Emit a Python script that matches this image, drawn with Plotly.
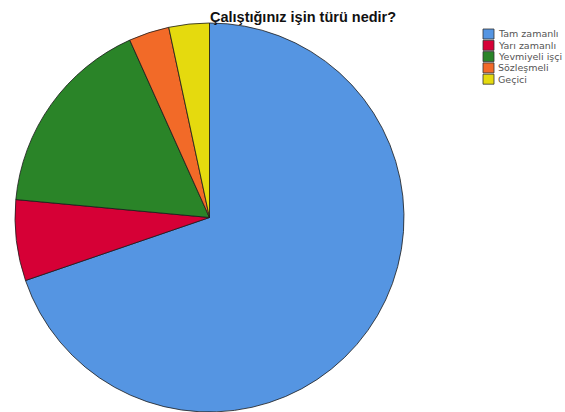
import plotly.graph_objects as go

categories = ["Tam zamanlı", "Yarı zamanlı", "Yevmiyeli işçi", "Sözleşmeli", "Geçici"]
counts = [83, 8, 20, 4, 4]
colors = ["#5595E2", "#D60036", "#2A8428", "#F26A28", "#E5DA0E"]
title_text = "Çalıştığınız işin türü nedir?"

W, H = 565, 412
cx, cy, r = 209.5, 217.5, 194.5

fig = go.Figure(go.Pie(
    labels=categories,
    values=counts,
    sort=False,
    direction="clockwise",
    rotation=0,
    marker=dict(colors=colors, line=dict(color="#1a1a1a", width=0.8)),
    textinfo="none",
    showlegend=False,
    domain=dict(x=[max(0, (cx - r) / W), min(1, (cx + r) / W)],
                y=[max(0, (H - cy - r) / H), min(1, (H - cy + r) / H)]),
))

shapes = []
annotations = [dict(
    text="<b>" + title_text + "</b>", x=302.5 / W, y=1 - 17 / H, xref="paper", yref="paper",
    xanchor="center", yanchor="middle", showarrow=False,
    font=dict(family="Liberation Sans, Arial", size=14.5, color="#111111"),
)]
lx0, ly0, dy = 483, 34, 11.3
for i, (c, col) in enumerate(zip(categories, colors)):
    yc = ly0 + i * dy
    shapes.append(dict(type="rect", xref="paper", yref="paper",
                       x0=lx0 / W, x1=(lx0 + 11) / W,
                       y0=1 - (yc + 5) / H, y1=1 - (yc - 5) / H,
                       fillcolor=col, line=dict(color="#333333", width=0.8)))
    annotations.append(dict(text=c, x=(lx0 + 13) / W, y=1 - yc / H, xref="paper", yref="paper",
                            xanchor="left", yanchor="middle", showarrow=False,
                            font=dict(family="DejaVu Sans", size=9.5, color="#555555")))

fig.update_layout(
    width=W, height=H,
    margin=dict(l=0, r=0, t=0, b=0),
    paper_bgcolor="white", plot_bgcolor="white",
    shapes=shapes, annotations=annotations,
)
fig.write_html("out.html", config={"displayModeBar": False},
               post_script="document.body.style.margin='0';")
